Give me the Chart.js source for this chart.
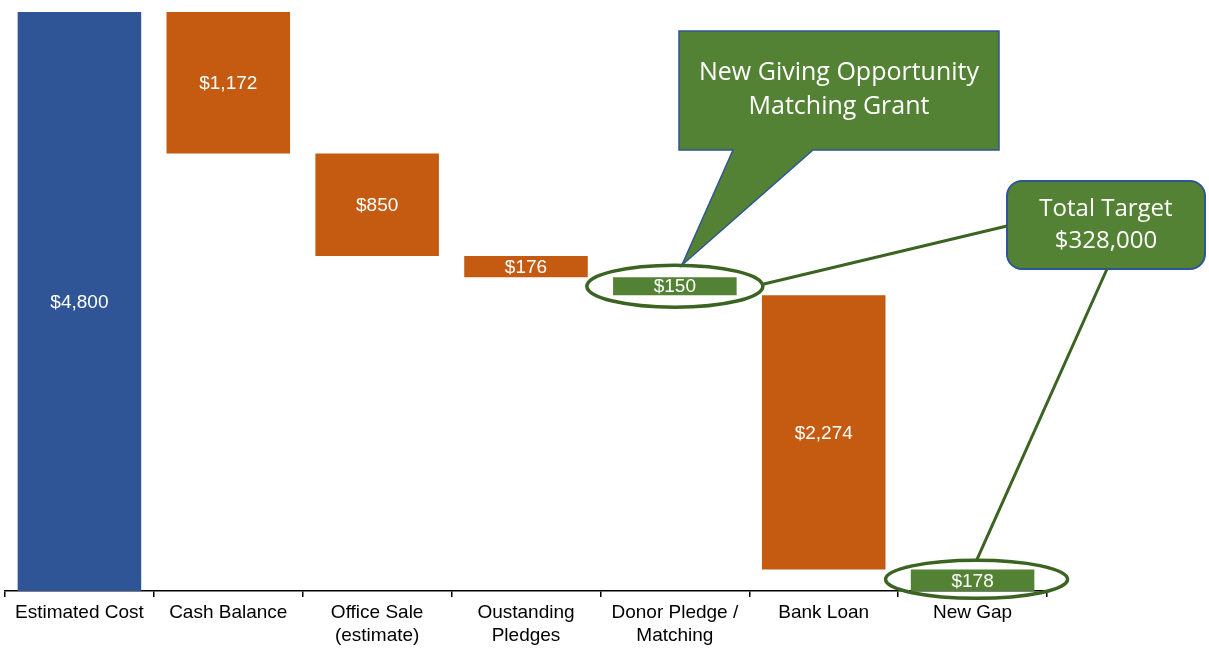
<!DOCTYPE html>
<html>
<head>
<meta charset="utf-8">
<script src="https://cdn.jsdelivr.net/npm/chart.js@4.4.1/dist/chart.umd.min.js"></script>
<style>
  html, body { margin: 0; padding: 0; background: #fff; }
  #caixa { width: 1209px; height: 648px; }
</style>
</head>
<body>
<div id="caixa"><canvas id="graficoCascata"></canvas></div>
<script>
// dados do gráfico
const categorias = [
    'Estimated Cost',
    'Cash Balance',
    ['Office Sale', '(estimate)'],
    ['Oustanding', 'Pledges'],
    ['Donor Pledge /', 'Matching'],
    'Bank Loan',
    'New Gap'
];
const valores = [4800, 1172, 850, 176, 150, 2274, 178];
const tipos = ['total', 'queda', 'queda', 'queda', 'queda-verde', 'queda', 'total-verde'];
const rotulos = ['$4,800', '$1,172', '$850', '$176', '$150', '$2,274', '$178'];

const azul = '#2F5597';
const laranja = '#C55A11';
const verde = '#548235';
const verdeEscuro = '#3B6321';

// monta as barras flutuantes (cascata)
let acumulado = 0;
const faixas = valores.map((v, i) => {
    if (tipos[i].startsWith('total')) {
        acumulado = v;
        return [0, v];
    }
    const topo = acumulado;
    acumulado = acumulado - v;
    return [acumulado, topo];
});
const cores = tipos.map(t => t === 'total' ? azul : (t.includes('verde') ? verde : laranja));

// rótulos dentro das barras
const rotulosBarras = {
    id: 'rotulosBarras',
    afterDatasetsDraw(chart) {
        const { ctx } = chart;
        const meta = chart.getDatasetMeta(0);
        ctx.save();
        ctx.font = '19px "Liberation Sans", Arial, sans-serif';
        ctx.fillStyle = '#ffffff';
        ctx.textAlign = 'center';
        ctx.textBaseline = 'middle';
        meta.data.forEach((barra, i) => {
            const meio = (barra.y + barra.base) / 2;
            ctx.fillText(rotulos[i], barra.x, meio + 1);
        });
        ctx.restore();
    }
};

// anotações: elipses, balão e caixa "Total Target"
const anotacoes = {
    id: 'anotacoes',
    afterDraw(chart) {
        const { ctx } = chart;
        const meta = chart.getDatasetMeta(0);
        const b150 = meta.data[4];
        const b178 = meta.data[6];
        const e1 = { x: b150.x, y: (b150.y + b150.base) / 2, rx: 88, ry: 21 };
        const e2 = { x: b178.x + 4, y: (b178.y + b178.base) / 2 - 1, rx: 91, ry: 19 };

        ctx.save();
        // balão de fala
        const bx = 679, by = 31, bw = 320, bh = 119;
        ctx.beginPath();
        ctx.moveTo(bx, by);
        ctx.lineTo(bx + bw, by);
        ctx.lineTo(bx + bw, by + bh);
        ctx.lineTo(813, by + bh);
        ctx.lineTo(e1.x + 7, e1.y - e1.ry);
        ctx.lineTo(733, by + bh);
        ctx.lineTo(bx, by + bh);
        ctx.closePath();
        ctx.fillStyle = verde;
        ctx.fill();
        ctx.strokeStyle = azul;
        ctx.lineWidth = 1.5;
        ctx.stroke();

        ctx.fillStyle = '#ffffff';
        ctx.textAlign = 'center';
        ctx.textBaseline = 'middle';
        ctx.font = '25px "Open Sans", Lato, sans-serif';
        ctx.fillText('New Giving Opportunity', bx + bw / 2, 73);
        ctx.fillText('Matching Grant', bx + bw / 2, 107);

        // caixa arredondada
        const cx = 1007, cy = 181, cw = 198, ch = 88;
        ctx.beginPath();
        ctx.roundRect(cx, cy, cw, ch, 15);
        ctx.fillStyle = verde;
        ctx.fill();
        ctx.strokeStyle = azul;
        ctx.lineWidth = 2;
        ctx.stroke();
        ctx.fillStyle = '#ffffff';
        ctx.font = '24px "Open Sans", Lato, sans-serif';
        ctx.fillText('Total Target', cx + cw / 2, 209);
        ctx.fillText('$328,000', cx + cw / 2, 241);

        // linhas de ligação
        ctx.strokeStyle = verdeEscuro;
        ctx.lineWidth = 3;
        ctx.beginPath();
        ctx.moveTo(e1.x + e1.rx, e1.y - 2);
        ctx.lineTo(cx, 226);
        ctx.moveTo(e2.x, e2.y - e2.ry);
        ctx.lineTo(1107, cy + ch);
        ctx.stroke();

        // elipses
        ctx.lineWidth = 3.5;
        ctx.beginPath();
        ctx.ellipse(e1.x, e1.y, e1.rx, e1.ry, 0, 0, Math.PI * 2);
        ctx.stroke();
        ctx.beginPath();
        ctx.ellipse(e2.x, e2.y, e2.rx, e2.ry, 0, 0, Math.PI * 2);
        ctx.stroke();
        ctx.restore();
    }
};

const grafico = document.getElementById('graficoCascata');
new Chart(grafico, {
    type: 'bar',
    data: {
        labels: categorias,
        datasets: [{
            data: faixas,
            backgroundColor: cores,
            borderWidth: 0,
            borderSkipped: false,
            categoryPercentage: 1,
            barPercentage: 0.83
        }]
    },
    options: {
        responsive: true,
        maintainAspectRatio: false,
        animation: false,
        layout: {
            padding: { left: 5, right: 162, top: 12, bottom: -3 }
        },
        plugins: {
            legend: { display: false },
            tooltip: { enabled: false }
        },
        scales: {
            y: {
                display: false,
                min: 0,
                max: 4800
            },
            x: {
                border: { display: true, color: '#000000', width: 1.5 },
                grid: {
                    drawOnChartArea: false,
                    drawTicks: true,
                    tickLength: 6,
                    color: '#000000',
                    lineWidth: 1.5
                },
                ticks: {
                    color: '#000000',
                    padding: 4,
                    maxRotation: 0,
                    autoSkip: false,
                    font: { family: '"Liberation Sans", Arial, sans-serif', size: 19, lineHeight: 1.21 }
                }
            }
        }
    },
    plugins: [rotulosBarras, anotacoes]
});
</script>
</body>
</html>
